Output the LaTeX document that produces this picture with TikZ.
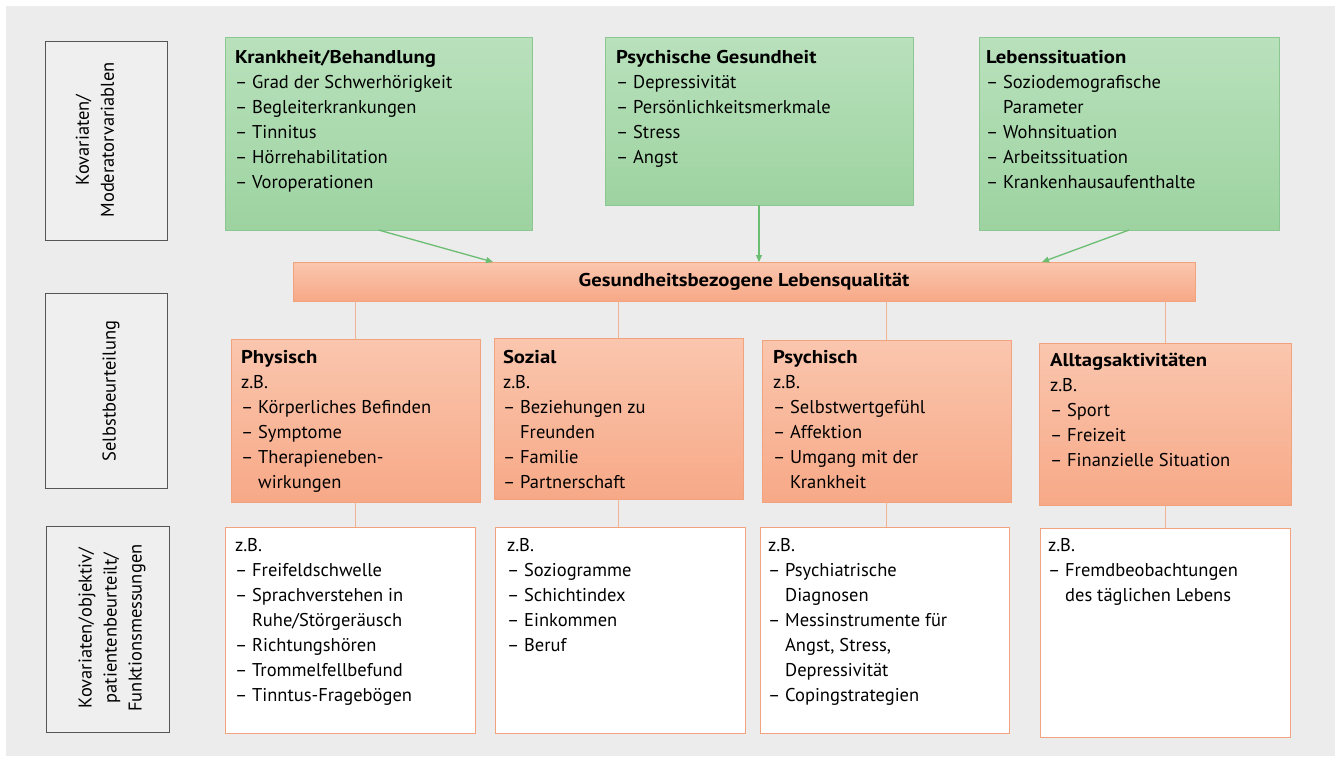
\documentclass[tikz,border=0pt]{standalone}
\usepackage{fontspec}
\setmainfont{PT Sans}[BoldFeatures={FakeStretch=1.12}]
\usetikzlibrary{arrows.meta}
\definecolor{cBg}{HTML}{ECECEC}
\definecolor{cLblFill}{HTML}{EFEFEF}
\definecolor{cLblBorder}{HTML}{555555}
\definecolor{cGTop}{HTML}{B9E1BC}
\definecolor{cGBot}{HTML}{9DD3A0}
\definecolor{cGBorder}{HTML}{8CC792}
\definecolor{cOTop}{HTML}{FAC6AE}
\definecolor{cOBot}{HTML}{F7A987}
\definecolor{cOBorder}{HTML}{F2A27D}
\definecolor{cOLine}{HTML}{F0B393}
\definecolor{cGArrow}{HTML}{6BBE71}
\newcommand\mystrut{\vrule height 18pt depth 0pt width 0pt}
\begin{document}
\begin{tikzpicture}[x=1pt,y=-1pt,
  every node/.style={font=\fontsize{18.5}{25}\selectfont, inner sep=0pt, outer sep=0pt},
  lblbox/.style={draw=cLblBorder, fill=cLblFill, line width=1pt, anchor=north west},
  lbltext/.style={rotate=90, align=center},
  gbox/.style={draw=cGBorder, top color=cGTop, bottom color=cGBot, line width=0.8pt, anchor=north west},
  obox/.style={draw=cOBorder, top color=cOTop, bottom color=cOBot, line width=0.8pt, anchor=north west},
  wbox/.style={draw=cOBorder, fill=white, line width=0.8pt, anchor=north west},
  txt/.style={anchor=north west, align=left},
  garrow/.style={draw=cGArrow, line width=1.3pt, -{Triangle[length=7pt,width=6pt]}},
  oline/.style={draw=cOLine, line width=0.9pt}]
\useasboundingbox (0,0) rectangle (1335,756);
\fill[white] (0,0) rectangle (1335,756);
\fill[cBg] (6,6) rectangle (1335,756);

% left label boxes
\node[lblbox, minimum width=122pt, minimum height=199pt] (l1) at (45,41) {};
\node[lbltext] (l1t) at (95,140) {Kovariaten/\\Moderatorvariablen};
\node[lblbox, minimum width=122pt, minimum height=195pt] (l2) at (45,293) {};
\node[lbltext] (l2t) at (111,391) {Selbstbeurteilung};
\node[lblbox, minimum width=123pt, minimum height=206pt] (l3) at (46,526) {};
\node[lbltext] (l3t) at (112,628) {Kovariaten/objektiv/\\patientenbeurteilt/\\Funktionsmessungen};

% green boxes
\node[gbox, minimum width=307pt, minimum height=193pt] (g1) at (225,37) {};
\node[txt] (g1t) at (235,45.5) {\mystrut\textbf{Krankheit/Behandlung}\\– Grad der Schwerhörigkeit\\– Begleiterkrankungen\\– Tinnitus\\– Hörrehabilitation\\– Voroperationen};
\node[gbox, minimum width=308pt, minimum height=168pt] (g2) at (605,37) {};
\node[txt] (g2t) at (616,45.5) {\mystrut\textbf{Psychische Gesundheit}\\– Depressivität\\– Persönlichkeitsmerkmale\\– Stress\\– Angst};
\node[gbox, minimum width=300pt, minimum height=193pt] (g3) at (979,37) {};
\node[txt] (g3t) at (986,45.5) {\mystrut\textbf{Lebenssituation}\\– Soziodemografische\\\hphantom{– }Parameter\\– Wohnsituation\\– Arbeitssituation\\– Krankenhausaufenthalte};

% bar
\node[obox, minimum width=902pt, minimum height=39pt] (bar) at (293,262) {};
\node[font=\fontsize{18.5}{25}\selectfont\bfseries] (bart) at (bar.center) {Gesundheitsbezogene Lebensqualität};

% arrows
\coordinate (a1) at (493,0);
\coordinate (a3) at (1042,0);
\draw[garrow] (g1.south) -- (bar.north -| a1);
\draw[garrow] (g2.south) -- (g2.south |- bar.north);
\draw[garrow] (g3.south) -- (bar.north -| a3);

% orange boxes
\node[obox, minimum width=249pt, minimum height=163pt] (o1) at (231,339) {};
\node[txt] (o1t) at (241,345) {\mystrut\textbf{Physisch}\\z.B.\\– Körperliches Befinden\\– Symptome\\– Therapieneben-\\\hphantom{– }wirkungen};
\node[obox, minimum width=249pt, minimum height=161pt] (o2) at (494,338) {};
\node[txt] (o2t) at (503,345) {\mystrut\textbf{Sozial}\\z.B.\\– Beziehungen zu\\\hphantom{– }Freunden\\– Familie\\– Partnerschaft};
\node[obox, minimum width=249pt, minimum height=162pt] (o3) at (762,340) {};
\node[txt] (o3t) at (773,345) {\mystrut\textbf{Psychisch}\\z.B.\\– Selbstwertgefühl\\– Affektion\\– Umgang mit der\\\hphantom{– }Krankheit};
\node[obox, minimum width=252pt, minimum height=162pt] (o4) at (1039,343) {};
\node[txt] (o4t) at (1050,348) {\mystrut\textbf{Alltagsaktivitäten}\\z.B.\\– Sport\\– Freizeit\\– Finanzielle Situation};

% connectors bar -> orange
\draw[oline] (o1.north |- bar.south) -- (o1.north);
\draw[oline] (o2.north |- bar.south) -- (o2.north);
\draw[oline] (o3.north |- bar.south) -- (o3.north);
\draw[oline] (o4.north |- bar.south) -- (o4.north);

% white boxes
\node[wbox, minimum width=250pt, minimum height=206pt] (w1) at (225,527) {};
\node[txt] (w1t) at (235,533) {\mystrut z.B.\\– Freifeldschwelle\\– Sprachverstehen in\\\hphantom{– }Ruhe/Störgeräusch\\– Richtungshören\\– Trommelfellbefund\\– Tinntus-Fragebögen};
\node[wbox, minimum width=250pt, minimum height=206pt] (w2) at (495,527) {};
\node[txt] (w2t) at (507,533) {\mystrut z.B.\\– Soziogramme\\– Schichtindex\\– Einkommen\\– Beruf};
\node[wbox, minimum width=249pt, minimum height=206pt] (w3) at (760,527) {};
\node[txt] (w3t) at (768,533) {\mystrut z.B.\\– Psychiatrische\\\hphantom{– }Diagnosen\\– Messinstrumente für\\\hphantom{– }Angst, Stress,\\\hphantom{– }Depressivität\\– Copingstrategien};
\node[wbox, minimum width=250pt, minimum height=209pt] (w4) at (1040,528) {};
\node[txt] (w4t) at (1048,533) {\mystrut z.B.\\– Fremdbeobachtungen\\\hphantom{– }des täglichen Lebens};

% connectors orange -> white
\draw[oline] (o1.south) -- (o1.south |- w1.north);
\draw[oline] (o2.south) -- (o2.south |- w2.north);
\draw[oline] (o3.south) -- (o3.south |- w3.north);
\draw[oline] (o4.south) -- (o4.south |- w4.north);
\end{tikzpicture}
\end{document}
